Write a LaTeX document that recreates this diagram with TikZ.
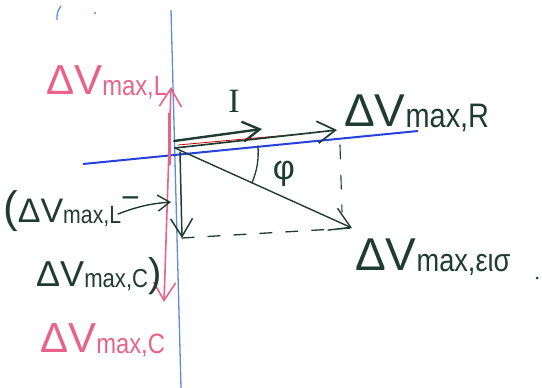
\documentclass[tikz,border=0pt]{standalone}
\usepackage{fontspec}
\setmainfont{Liberation Sans}
\newfontfamily\serifI{Liberation Serif}
\usetikzlibrary{arrows.meta}
\definecolor{pinkc}{HTML}{E8628A}
\definecolor{inkc}{HTML}{1E3C32}
\definecolor{bluev}{HTML}{5A8CDC}
\definecolor{blueh}{HTML}{2840DC}
% #1 main size, #2 sub size, #3 subscript text
\newcommand{\dv}[3]{{\fontsize{#1}{#1}\selectfont ΔV}\raisebox{-0.3ex}{\scalebox{0.85}[1]{\fontsize{#2}{#2}\selectfont #3}}}
\tikzset{
  lbl/.style={inner sep=0pt},
  pinklbl/.style={lbl, text=pinkc},
  inklbl/.style={lbl, text=inkc},
  barb/.style={-{Straight Barb[length=18pt,width=22pt]}},
  ink/.style={draw=inkc, line width=1.5pt, line cap=round},
}
\begin{document}
\begin{tikzpicture}[x=1pt,y=-1pt]
\useasboundingbox (0,0) rectangle (542,388);
% coordinates
\coordinate (o) at (175,148);
\coordinate (po) at (169,150);
\coordinate (pl) at (171,87);
\coordinate (pc) at (164,302);
\coordinate (bv1) at (171,10);
\coordinate (bv2) at (181,388);
\coordinate (bh1) at (83,164);
\coordinate (bh2) at (418,131);
\coordinate (i0) at (174,141);
\coordinate (i1) at (262,129);
\coordinate (r) at (337,130);
\coordinate (e) at (352,228);
\coordinate (d0) at (180,152);
\coordinate (d1) at (182,238);
\coordinate (dv0) at (340,145);
\coordinate (dv1) at (342,212);
\coordinate (a0) at (258,146);
\coordinate (a1) at (252,183);
\coordinate (la0) at (118,214);
\coordinate (la1) at (171,202);
% axes
\draw[bluev, line width=1.3pt] (bv1) -- (bv2);
\draw[blueh, line width=2pt] (bh1) -- (bh2);
% pink phasors
\draw[pinkc, line width=1.6pt, barb] (po) -- (pl);
\draw[pinkc, line width=1.6pt, barb] (po) -- (pc);
\draw[pinkc, line width=3pt] (169,113) -- (169,165);
% current I
\draw[ink, line width=2.4pt, -{Straight Barb[length=17pt,width=20pt]}] (i0) -- (i1);
% VR
\draw[red!80!black, line width=0.8pt] (178,145) -- (300,134);
\draw[ink, line width=1.7pt, barb] (o) -- (r);
% Vin
\draw[ink, line width=1.4pt, -{Straight Barb[length=20pt,width=24pt]}] (o) -- (e);
% down (L-C)
\draw[ink, line width=1.5pt, barb] (d0) -- (d1);
% dashed
\draw[ink, line width=1.3pt, dash pattern=on 12pt off 14pt] (d1) -- (e);
\draw[ink, line width=1.1pt, dash pattern=on 14pt off 16pt] (dv0) -- (dv1);
% angle arc
\draw[ink, line width=1.3pt] (a0) to[bend left=12] (a1);
% left pointer
\draw[ink, line width=1.4pt, -{Straight Barb[length=12pt,width=16pt]}] (la0) to[bend left=8] (la1);
% labels
\node[pinklbl, anchor=base west] (nL) at (46,94) {\dv{42}{28}{max,L}};
\node[inklbl, font=\fontsize{34}{36}\selectfont\serifI] (nI) at (234,101) {I};
\node[inklbl, anchor=base west] (nR) at (344,126) {\dv{46}{34}{max,R}};
\node[inklbl, font=\fontsize{34}{36}\selectfont] (nphi) at (284,174) {φ};
\node[inklbl, anchor=base west] (nLC1) at (3,222) {{\fontsize{44}{44}\selectfont (}\dv{34}{25}{max,L}\raisebox{14pt}{\fontsize{32}{32}\selectfont −}};
\node[inklbl, anchor=base west] (nLC2) at (36,286) {\dv{36}{26}{max,C}{\fontsize{40}{40}\selectfont )}};
\node[pinklbl, anchor=base west] (nC) at (40,352) {\dv{42}{28}{max,C}};
\node[inklbl, anchor=base west] (nE) at (355,270) {\dv{46}{32}{max,εισ}};
% stray marks
\fill[inkc] (537,278) circle (1.5pt);
\fill[bluev] (95,13) circle (1.2pt);
\draw[bluev, line width=1.3pt] (61,6) to[bend right=20] (57,20);
\end{tikzpicture}
\end{document}
